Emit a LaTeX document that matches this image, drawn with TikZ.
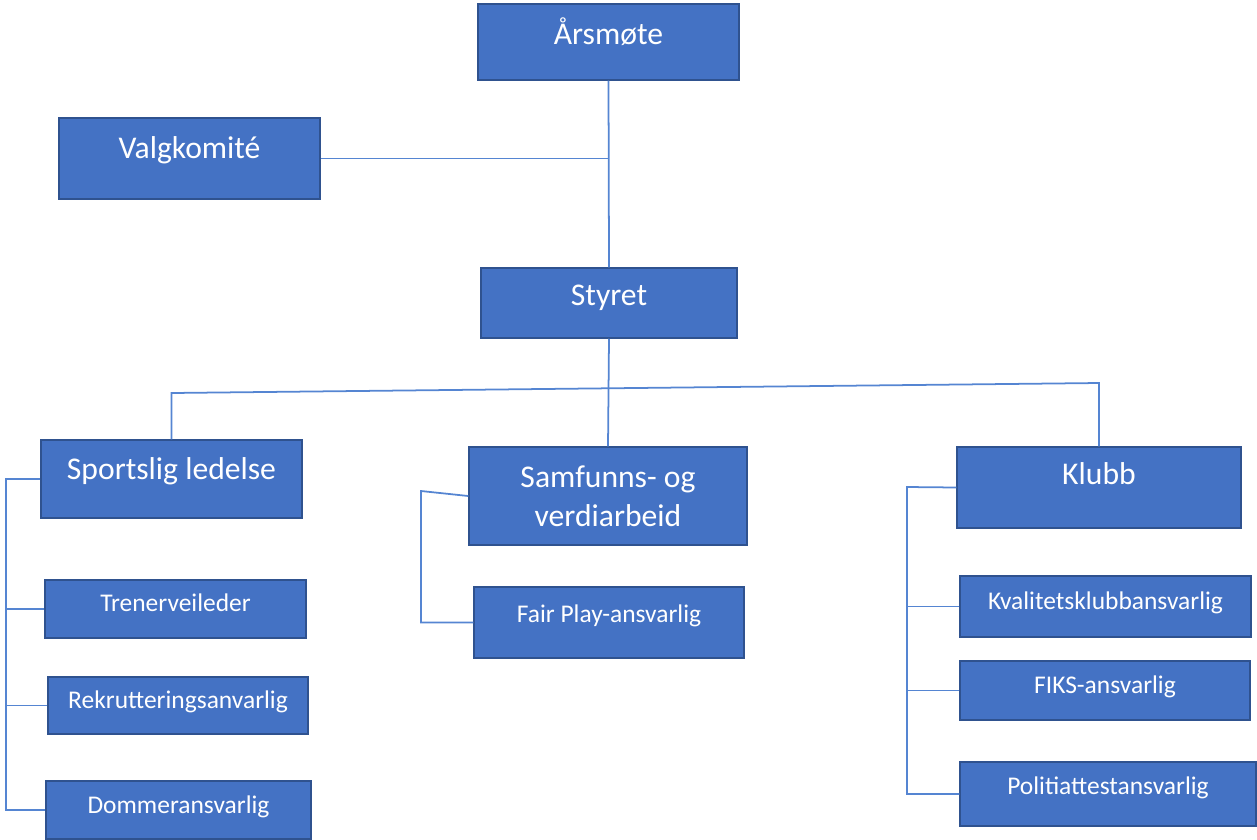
\documentclass[tikz,border=0pt]{standalone}
\usepackage{fontspec}
\setmainfont{Carlito}
\definecolor{boxblue}{HTML}{4472C4}
\definecolor{boxline}{HTML}{2F528F}
\definecolor{linkblue}{HTML}{5585D2}
\begin{document}
\begin{tikzpicture}
[x=0.02cm,y=-0.02cm,
 unit/.style={draw=boxline,fill=boxblue,text=white,line width=0.85pt,
   inner sep=0pt,align=center,text height=7.4pt,text depth=4pt},
 big/.style={unit,font=\fontsize{18}{22}\selectfont},
 small/.style={unit,font=\fontsize{14.5}{17}\selectfont},
 mid/.style={text height=4pt,text depth=4pt},
 conn/.style={draw=linkblue,line width=1pt}]
\useasboundingbox (0,0) rectangle (1257,839);
\node[big,minimum width=5.22cm,minimum height=1.52cm] (aars) at (608.5,42) {Årsmøte};
\node[big,mid,minimum width=5.22cm,minimum height=1.62cm] (valg) at (189.5,158.5) {Valgkomité};
\node[big,minimum width=5.12cm,minimum height=1.40cm] (styret) at (609,303) {Styret};
\node[big,mid,minimum width=5.22cm,minimum height=1.56cm] (sport) at (171.5,479) {Sportslig ledelse};
\node[big,text height=,text depth=,minimum width=5.56cm,minimum height=1.96cm] (samf) at (608,496) {Samfunns- og\\verdiarbeid};
\node[big,text height=4pt,text depth=7pt,minimum width=5.68cm,minimum height=1.62cm] (klubb) at (1099,487.5) {Klubb};
\node[small,minimum width=5.22cm,minimum height=1.16cm] (tren) at (175.5,609) {Trenerveileder};
\node[small,minimum width=5.20cm,minimum height=1.14cm] (rekr) at (178,705.5) {Rekrutteringsanvarlig};
\node[small,minimum width=5.30cm,minimum height=1.16cm] (domm) at (178.5,810) {Dommeransvarlig};
\node[small,mid,minimum width=5.40cm,minimum height=1.42cm] (fair) at (609,622.5) {Fair Play-ansvarlig};
\node[small,minimum width=5.82cm,minimum height=1.22cm] (kval) at (1105.5,606.5) {Kvalitetsklubbansvarlig};
\node[small,minimum width=5.80cm,minimum height=1.18cm] (fiks) at (1105,690.5) {FIKS-ansvarlig};
\node[small,mid,minimum width=5.92cm,minimum height=1.28cm] (poli) at (1108,794) {Politiattestansvarlig};
\coordinate (barL) at (171.5,393);
\coordinate (barR) at (1099,383);
\coordinate (railA) at (6,479);
\coordinate (railB) at (421,491);
\coordinate (railC) at (907,487);
\draw[conn] (aars.south) -- (styret.north);
\draw[conn] (valg.east) -- (valg.east -| aars.south);
\draw[conn] (styret.south) -- (samf.north);
\draw[conn] (sport.north) -- (barL) -- (barR) -- (klubb.north);
\draw[conn] (sport.west) -- (railA) |- (domm.west);
\foreach \n in {tren,rekr}
  \draw[conn] (\n.west) -- (\n.west -| railA);
\draw[conn] (samf.west) -- (railB) |- (fair.west);
\draw[conn] (klubb.west) -- (railC) |- (poli.west);
\foreach \n in {kval,fiks}
  \draw[conn] (\n.west) -- (\n.west -| railC);
\end{tikzpicture}
\end{document}
